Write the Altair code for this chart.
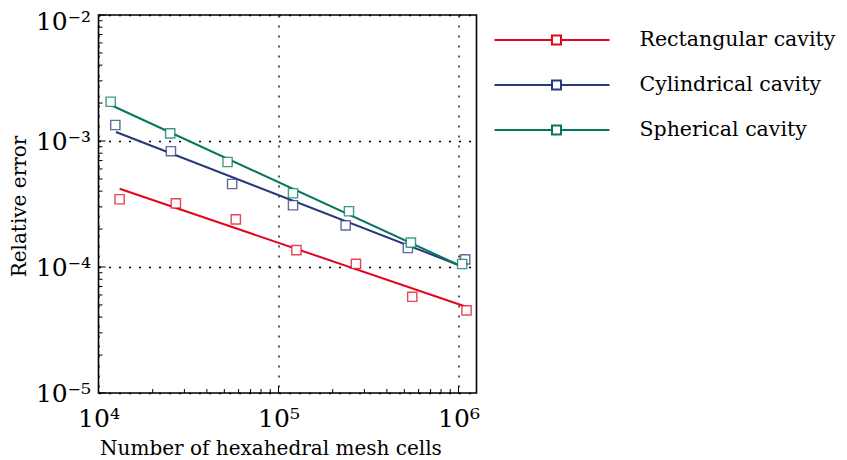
import altair as alt
import pandas as pd

# ---------------- data ----------------
series = ["Rectangular cavity", "Cylindrical cavity", "Spherical cavity"]
colors = ["#e3051d", "#283a7e", "#04775e"]

rect_x = [13100, 26900, 57900, 125800, 269300, 553500, 1108000]
rect_y = [3.45e-4, 3.20e-4, 2.39e-4, 1.36e-4, 1.06e-4, 5.8e-5, 4.53e-5]
cyl_x = [12400, 25250, 55250, 120400, 236100, 523200, 1089000]
cyl_y = [1.34e-3, 8.3e-4, 4.56e-4, 3.09e-4, 2.14e-4, 1.415e-4, 1.15e-4]
sph_x = [11690, 25020, 52110, 120400, 246300, 543800, 1048000]
sph_y = [2.05e-3, 1.15e-3, 6.81e-4, 3.85e-4, 2.77e-4, 1.56e-4, 1.056e-4]

# fitted lines (end points)
rect_fit_x = [13100, 1103000]
rect_fit_y = [4.18e-4, 4.84e-5]
cyl_fit_x = [12500, 1094000]
cyl_fit_y = [1.18e-3, 9.87e-5]
sph_fit_x = [11690, 1080000]
sph_fit_y = [1.93e-3, 9.87e-5]

x_major_exp = [4, 5, 6]
y_major_exp = [-5, -4, -3, -2]
minor_mult = [2, 3, 4, 5, 6, 7, 8, 9]

x_major = [10.0 ** e for e in x_major_exp]
y_major = [10.0 ** e for e in y_major_exp]
x_minor = [m * 10.0 ** e for e in x_major_exp[:-1] for m in minor_mult]
y_minor = [m * 10.0 ** e for e in y_major_exp[:-1] for m in minor_mult]

# ---------------- tables ----------------
pts = pd.concat([
    pd.DataFrame({"series": s, "x": xs, "y": ys})
    for s, xs, ys in zip(series, [rect_x, cyl_x, sph_x], [rect_y, cyl_y, sph_y])
])
fits = pd.concat([
    pd.DataFrame({"series": s, "x": xs, "y": ys})
    for s, xs, ys in zip(series, [rect_fit_x, cyl_fit_x, sph_fit_x],
                         [rect_fit_y, cyl_fit_y, sph_fit_y])
])

SUP = str.maketrans("-0123456789", "⁻⁰¹²³⁴⁵⁶⁷⁸⁹")


def label_expr(exps):
    expr = "''"
    for e in exps:
        expr = f"round(log(datum.value)/LN10) == {e} ? '10{str(e).translate(SUP)}' : (" + expr + ")"
    return expr


FONT = "DejaVu Serif"
W, H = 378, 378

xscale = alt.Scale(type="log", domain=[1e4, 10 ** 6.1], nice=False)
yscale = alt.Scale(type="log", domain=[1e-5, 1e-2], nice=False)

grid_common = dict(grid=True, gridDash=[2, 8], gridColor="black", gridWidth=1.3,
                   gridOpacity=1, ticks=False, tickSize=0, domain=False,
                   labelFont=FONT, labelFontSize=25, labelColor="black",
                   labelOverlap=False, labelFlush=False, labelBound=False,
                   titleFont=FONT, titleFontSize=20, titleFontWeight="normal",
                   titleColor="black")

xaxis = alt.Axis(values=x_major, labelExpr=label_expr(x_major_exp), labelPadding=13,
                 title="Number of hexahedral mesh cells", titleX=172, titleY=61,
                 titleBaseline="alphabetic", **grid_common)
yaxis = alt.Axis(values=y_major, labelExpr=label_expr(y_major_exp), labelPadding=8,
                 labelOffset={"condition": {"test": "datum.value > 0.005", "value": 6.5}, "value": 0},
                 title="Relative error", titleX=-73, titleY=191,
                 titleBaseline="alphabetic", **grid_common)

X = alt.X("x:Q", scale=xscale, axis=xaxis)
Y = alt.Y("y:Q", scale=yscale, axis=yaxis)

legend = alt.Legend(
    title=None, orient="none", legendX=447, legendY=14, padding=0,
    symbolType="M-6.2,0H-0.45M0.45,0H5.3M-0.45,-0.45H0.45V0.45H-0.45Z",
    symbolSize=400, symbolStrokeWidth=2, symbolFillColor="white", symbolOpacity=1,
    labelFont=FONT, labelFontSize=20.5, labelColor="black", labelOffset=72,
    rowPadding=23, labelLimit=400,
)
color = alt.Color("series:N", scale=alt.Scale(domain=series, range=colors),
                  sort=series, legend=legend)

lines = alt.Chart(fits).mark_line(strokeWidth=2).encode(
    x=X, y=Y, color=color, detail="series:N")

points = alt.Chart(pts).mark_point(shape="square", filled=False, fill="white",
                                   fillOpacity=1, size=85, strokeWidth=1.4,
                                   strokeOpacity=0.75).encode(x=X, y=Y, color=color)

xt_major = alt.Chart(pd.DataFrame({"x": x_major})).mark_rule(color="black", strokeWidth=1).encode(
    x=X, y=alt.value(H), y2=alt.value(H - 7))
xt_minor = alt.Chart(pd.DataFrame({"x": x_minor})).mark_rule(color="black", strokeWidth=1).encode(
    x=X, y=alt.value(H), y2=alt.value(H - 4))
yt_major = alt.Chart(pd.DataFrame({"y": y_major})).mark_rule(color="black", strokeWidth=1).encode(
    y=Y, x=alt.value(0), x2=alt.value(7))
yt_minor = alt.Chart(pd.DataFrame({"y": y_minor})).mark_rule(color="black", strokeWidth=1).encode(
    y=Y, x=alt.value(0), x2=alt.value(4))

chart = alt.layer(xt_major, xt_minor, yt_major, yt_minor, lines, points).properties(
    width=W, height=H,
    padding={"left": 90.5, "top": 7, "right": 362, "bottom": 66},
    autosize=alt.AutoSizeParams(type="none"),
).configure_view(stroke="black", strokeWidth=1.6)

chart.save("out.html", embed_options={"renderer": "svg", "actions": False})
